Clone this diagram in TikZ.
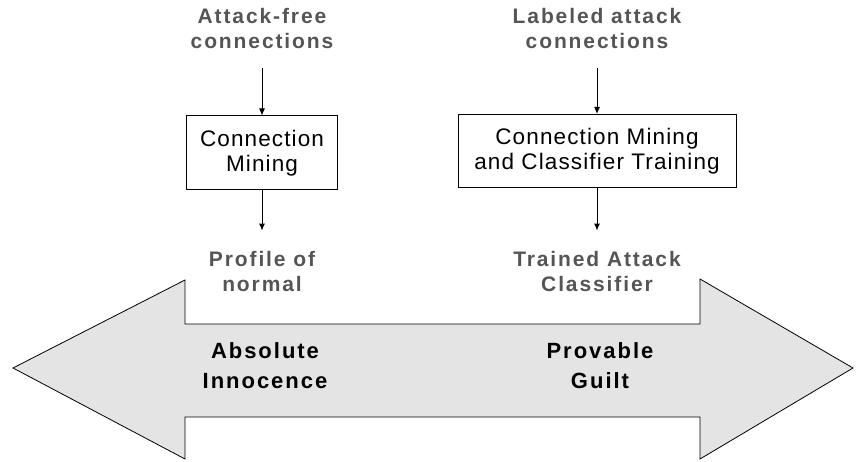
\documentclass[tikz,border=0pt]{standalone}
\usepackage{fontspec}
\setmainfont{Liberation Sans}
\newfontfamily\widebold[LetterSpace=9]{Liberation Sans Bold}
\newfontfamily\wideplain[LetterSpace=5]{Liberation Sans}
\usetikzlibrary{arrows.meta}
\definecolor{labelgray}{HTML}{555555}
\definecolor{arrowfill}{HTML}{E4E4E4}
\tikzset{
  datalabel/.style={font=\fontsize{21}{25}\selectfont\widebold, text=labelgray, align=center, inner sep=0pt},
  scalelabel/.style={font=\fontsize{22}{30}\selectfont\widebold, text=black, align=center, inner sep=0pt},
  stage/.style={draw, line width=1pt, fill=white, align=center, inner sep=0pt,
    font=\fontsize{22.5}{25}\selectfont\wideplain},
  flow/.style={line width=1pt, -{Latex[length=7pt,width=6pt]}}
}
\begin{document}
\begin{tikzpicture}[x=1pt,y=-1pt]
    \useasboundingbox (0,0) rectangle (862,462);
    % Flecha de la escala
    \draw[fill=arrowfill, line width=0.8pt]
      (13,368) -- (185,280) -- (185,324) -- (700,324) -- (700,279) -- (853,368)
      -- (700,459) -- (700,417) -- (185,417) -- (185,459) -- cycle;
    % Extremos de la escala
    \node[scalelabel] (innocence) at (265,366) {Absolute\\Innocence};
    \node[scalelabel] (guilt)     at (600,366) {Provable\\Guilt};
    % Rama izquierda
    \node[datalabel] (freein)  at (262,28)  {Attack-free\\connections};
    \node[stage, minimum width=151, minimum height=74] (mineA) at (262,153) {Connection\\Mining};
    \node[datalabel] (profile) at (262,271) {Profile of\\normal};
    % Rama derecha
    \node[datalabel] (attackin) at (597,28)  {Labeled attack\\connections};
    \node[stage, minimum width=278, minimum height=73] (mineB) at (597,151) {Connection Mining\\and Classifier Training};
    \node[datalabel] (trained)  at (597,271) {Trained Attack\\Classifier};
    % Flechas
    \draw[flow] ([yshift=-20pt]freein.south)   -- (mineA.north);
    \draw[flow] (mineA.south)   -- ([yshift=20pt]profile.north);
    \draw[flow] ([yshift=-20pt]attackin.south) -- (mineB.north);
    \draw[flow] (mineB.south)   -- ([yshift=20pt]trained.north);
\end{tikzpicture}
\end{document}
